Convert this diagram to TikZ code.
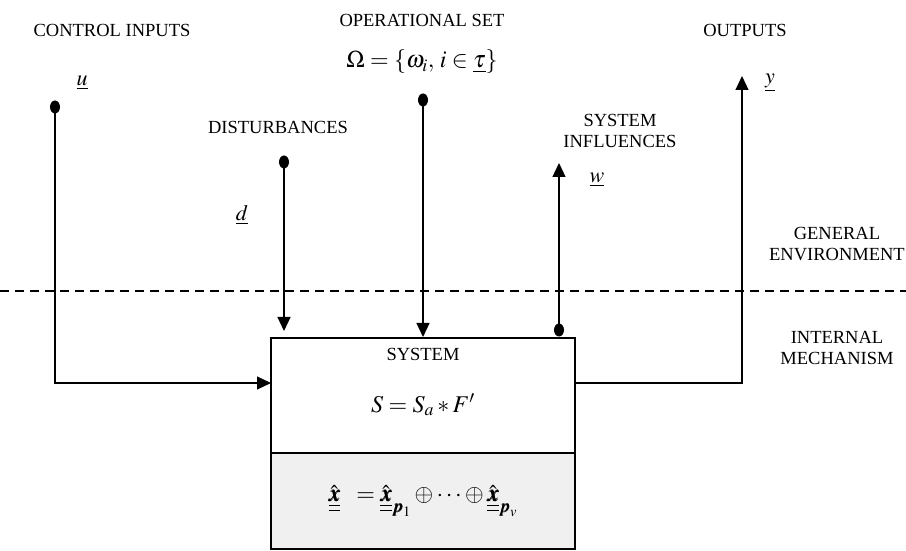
\documentclass[tikz,border=0pt]{standalone}
\usepackage{amsmath}
\usepackage{mathptmx}
\usepackage{bm}
\usepackage{fontspec}
\setmainfont{Liberation Serif}
\usetikzlibrary{arrows.meta}
\newcommand{\dul}[1]{\underline{\underline{#1}}}
\tikzset{
  lbl/.style={font=\fontsize{18.5}{21}\selectfont, align=center, inner sep=0pt},
  var/.style={font=\fontsize{22}{24}\selectfont, inner sep=0pt},
  mth/.style={font=\fontsize{24}{26}\selectfont, inner sep=0pt},
  conn/.style={line width=1.2pt},
  arr/.style={conn, -{Triangle[length=14pt,width=13pt]}},
  dotpt/.style={ellipse, fill=black, inner sep=0pt, minimum width=10pt, minimum height=13pt},
}
\usetikzlibrary{shapes.geometric}
\begin{document}
\begin{tikzpicture}[x=1pt,y=1pt]
\useasboundingbox (0,0) rectangle (906,551);
% environment border
\draw[line width=1.6pt, dash pattern=on 9pt off 6pt] (0,260) -- (906,260);
% system box
\fill[gray!12] (271,2) rectangle (575,98);
\draw[line width=1.3pt] (271,2) rectangle (575,213);
\draw[line width=1.3pt] (271,98) -- (575,98);
\coordinate (boxL) at (271,168);
\coordinate (boxR) at (575,168);
\node[lbl] (sys) at (423,197) {SYSTEM};
\node[mth] (sform) at (423,146) {$S = S_a * F'$};
\node[mth] (xform) at (423,50) {$\dul{\hat{\bm{x}}}\;\; = \dul{\hat{\bm{x}}}_{\bm{p}_1} \oplus\cdots\oplus \dul{\hat{\bm{x}}}_{\bm{p}_v}$};
% start points
\node[dotpt] (uS) at (55,444) {};
\node[dotpt] (dS) at (284,389) {};
\node[dotpt] (oS) at (423,451) {};
\node[dotpt] (wS) at (559,221) {};
\coordinate (uC) at (55,168);
\coordinate (dE) at (284,220);
\coordinate (oE) at (423,214);
\coordinate (wE) at (559,388);
\coordinate (yC) at (742,168);
\coordinate (yE) at (742,475);
% connectors
\draw[arr] (uS.center) -- (uC) -- (boxL);
\draw[arr] (dS.center) -- (dE);
\draw[arr] (oS.center) -- (oE);
\draw[arr] (wS.center) -- (wE);
\draw[arr] (boxR) -- (yC) -- (yE);
% variable labels
\node[var] (u) at (82,468) {$\underline{u}$};
\node[var] (d) at (242,336) {$\underline{d}$};
\node[var] (w) at (597,371) {$\underline{w}$};
\node[var] (y) at (770,468) {$\underline{y}$};
% text labels
\node[lbl] (ci) at (112,521) {CONTROL INPUTS};
\node[lbl] (os) at (422,531) {OPERATIONAL SET};
\node[mth] (om) at (422,489) {$\Omega = \left\{\omega_i,\, i \in \underline{\tau}\right\}$};
\node[lbl] (di) at (278,424) {DISTURBANCES};
\node[lbl] (si) at (620,420) {SYSTEM\\INFLUENCES};
\node[lbl] (ou) at (745,521) {OUTPUTS};
\node[lbl, anchor=east] (ge) at (905,307) {GENERAL\\ENVIRONMENT};
\node[lbl] (im) at (837,203) {INTERNAL\\MECHANISM};
\end{tikzpicture}
\end{document}
